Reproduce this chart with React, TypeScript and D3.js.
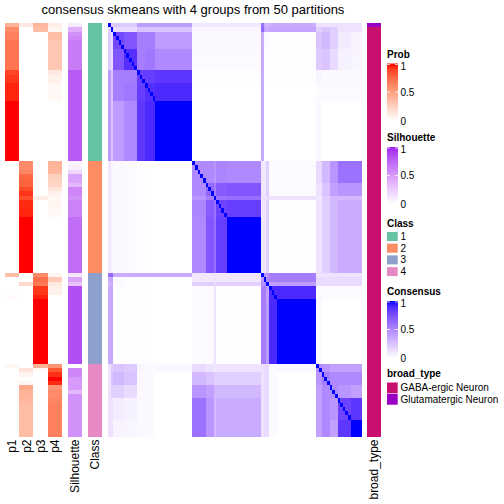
import React from "react";
import * as d3 from "d3";

const TITLE = "consensus skmeans with 4 groups from 50 partitions";
const N = 96;

// membership probabilities per sample (rows, in heatmap order)
const p1 = [
  0.4, 0.6, 0.65, 0.65, 0.7, 0.7, 0.7, 0.7, 0.7, 0.7, 0.7, 0.88, 0.92, 0.92, 0.96, 0.96,
  0.96, 0.96, 1, 1, 1, 1, 1, 1, 1, 1, 1, 1, 1, 1, 1, 1,
  0, 0, 0, 0, 0, 0, 0, 0, 0, 0, 0, 0, 0, 0, 0, 0, 0, 0, 0, 0, 0, 0, 0, 0, 0, 0,
  0.35, 0, 0, 0, 0, 0.03, 0, 0, 0, 0, 0, 0, 0, 0, 0, 0, 0, 0, 0, 0, 0,
  0.05, 0, 0, 0, 0, 0, 0, 0, 0, 0, 0, 0, 0, 0, 0, 0, 0,
];
const p2 = [
  0.12, 0, 0, 0, 0, 0, 0, 0, 0, 0, 0, 0, 0, 0, 0, 0, 0, 0, 0, 0, 0, 0, 0, 0, 0, 0, 0, 0, 0, 0, 0, 0,
  0.6, 0.6, 0.62, 0.75, 0.77, 0.78, 0.86, 0.93, 0.86, 0.95, 0.95, 0.96, 0.96, 1, 1, 1, 1, 1, 1, 1, 1, 1, 1, 1, 1, 1,
  0, 0, 0.2, 0, 0, 0, 0, 0, 0, 0, 0, 0, 0, 0, 0, 0, 0, 0, 0, 0, 0,
  0, 0.15, 0.06, 0, 0.05, 0.45, 0.4, 0.4, 0.38, 0.35, 0.35, 0.35, 0.35, 0.35, 0.35, 0.35, 0.35,
];
const p3 = [
  0.38, 0.35, 0, 0, 0, 0, 0, 0, 0, 0, 0, 0, 0, 0, 0, 0, 0, 0, 0, 0, 0, 0, 0, 0, 0, 0, 0, 0, 0, 0, 0, 0,
  0, 0, 0, 0, 0, 0, 0, 0, 0.1, 0, 0, 0, 0, 0, 0, 0, 0, 0, 0, 0, 0, 0, 0, 0, 0, 0,
  0.6, 0.72, 0.68, 0.92, 0.92, 0.97, 1, 1, 1, 1, 1, 1, 1, 1, 1, 1, 1, 1, 1, 1, 1,
  0.4, 0.03, 0, 0, 0, 0, 0, 0, 0, 0, 0, 0, 0, 0, 0, 0, 0,
];
const p4 = [
  0.1, 0.05, 0.35, 0.35, 0.3, 0.3, 0.3, 0.3, 0.3, 0.3, 0.3, 0.12, 0.08, 0.08, 0.04, 0.04,
  0.04, 0.04, 0, 0, 0, 0, 0, 0, 0, 0, 0, 0, 0, 0, 0, 0,
  0.4, 0.4, 0.38, 0.25, 0.23, 0.22, 0.14, 0.07, 0.04, 0.05, 0.05, 0.04, 0.04, 0, 0, 0, 0, 0, 0, 0, 0, 0, 0, 0, 0, 0,
  0.05, 0.28, 0.12, 0.08, 0.08, 0, 0, 0, 0, 0, 0, 0, 0, 0, 0, 0, 0, 0, 0, 0, 0,
  0.55, 0.82, 0.94, 1, 0.95, 0.55, 0.6, 0.6, 0.62, 0.65, 0.65, 0.65, 0.65, 0.65, 0.65, 0.65, 0.65,
];
const silhouette = [
  0.1, 0.4, 0.55, 0.6, 0.65, 0.65, 0.65, 0.65, 0.65, 0.65, 0.65, 0.8, 0.8, 0.8, 0.8, 0.8,
  0.8, 0.8, 0.8, 0.8, 0.8, 0.8, 0.8, 0.8, 0.8, 0.8, 0.8, 0.8, 0.8, 0.8, 0.8, 0.8,
  0.05, 0.08, 0.2, 0.45, 0.45, 0.35, 0.6, 0.6, 0.55, 0.62, 0.62, 0.62, 0.62, 0.72, 0.72, 0.72, 0.72, 0.72, 0.72, 0.72, 0.72, 0.72, 0.72, 0.72, 0.72, 0.72,
  0.12, 0.45, 0.3, 0.85, 0.85, 0.85, 0.85, 0.85, 0.85, 0.85, 0.85, 0.85, 0.85, 0.85, 0.85, 0.85, 0.85, 0.85, 0.85, 0.85, 0.85,
  0, 0.6, 0.6, 0.5, 0.5, 0.5, 0.35, 0.55, 0.55, 0.55, 0.55, 0.55, 0.55, 0.55, 0.55, 0.55, 0.55,
];
const sampleClass = [
  1, 1, 1, 1, 1, 1, 1, 1, 1, 1, 1, 1, 1, 1, 1, 1, 1, 1, 1, 1, 1, 1, 1, 1, 1, 1, 1, 1, 1, 1, 1, 1,
  2, 2, 2, 2, 2, 2, 2, 2, 2, 2, 2, 2, 2, 2, 2, 2, 2, 2, 2, 2, 2, 2, 2, 2, 2, 2,
  3, 3, 3, 3, 3, 3, 3, 3, 3, 3, 3, 3, 3, 3, 3, 3, 3, 3, 3, 3, 3,
  4, 4, 4, 4, 4, 4, 4, 4, 4, 4, 4, 4, 4, 4, 4, 4, 4,
];
// 0 = GABA-ergic Neuron, 1 = Glutamatergic Neuron
const broadType = [1, ...Array(95).fill(0)];

// consensus: samples grouped in segments (start index), with segment-to-segment consensus
const segStart = [0, 1, 2, 6, 11, 14, 18, 32, 37, 40, 41, 45, 58, 59, 60, 61, 64, 79, 81, 84, 87, 92];
const segConsensus = [
  [1, .2, .22, .22, .42, .42, .42, .1, .1, .1, .1, .1, .6, .35, .3, .35, .35, .12, .12, .12, .12, .12],
  [.2, 1, .15, .15, .25, .25, .25, .04, .04, .04, .04, .04, .65, .38, .35, .38, .38, .2, .25, .2, .12, .12],
  [.22, .15, .78, .72, .55, .55, .42, .03, .03, .03, .03, .03, .35, .02, .02, .01, .01, .25, .3, .2, .08, .05],
  [.22, .15, .72, .88, .55, .58, .5, .02, .02, .02, .02, .02, .35, .01, .01, .01, .01, .22, .25, .15, .06, .04],
  [.42, .25, .55, .55, .82, .82, .85, .01, .01, .01, .01, .01, .35, .01, .01, .01, .01, .04, .03, .03, .03, .03],
  [.42, .25, .55, .58, .82, .88, .9, 0, 0, 0, 0, 0, .35, 0, 0, 0, 0, .02, .02, .02, .02, .02],
  [.42, .25, .42, .5, .85, .9, 1, 0, 0, 0, 0, 0, .35, 0, 0, 0, 0, .03, 0, 0, 0, 0],
  [.1, .04, .03, .02, .01, 0, 0, .5, .5, .45, .52, .5, .1, .1, .2, .02, .02, .15, .3, .45, .6, .6],
  [.1, .04, .03, .02, .01, 0, 0, .5, .65, .55, .7, .72, .1, .1, .2, .02, .02, .12, .25, .4, .45, .45],
  [.1, .04, .03, .02, .01, 0, 0, .45, .55, 1, .6, .62, .12, .12, .15, .12, .12, .1, .2, .3, .3, .3],
  [.1, .04, .03, .02, .01, 0, 0, .52, .7, .6, .8, .82, .1, .1, .2, .01, .01, .12, .2, .3, .35, .35],
  [.1, .04, .03, .02, .01, 0, 0, .5, .72, .62, .82, 1, .1, .1, .2, .01, .01, .12, .2, .3, .35, .35],
  [.6, .65, .35, .35, .35, .35, .35, .1, .1, .12, .1, .1, 1, .45, .45, .55, .55, .12, .12, .12, .12, .12],
  [.35, .38, .02, .01, .01, 0, 0, .1, .1, .12, .1, .1, .45, 1, .5, .55, .55, .15, .15, .15, .15, .15],
  [.3, .35, .02, .01, .01, 0, 0, .2, .2, .15, .2, .2, .45, .5, 1, .4, .42, .15, .15, .15, .15, .15],
  [.35, .38, .01, .01, .01, 0, 0, .02, .02, .12, .01, .01, .55, .55, .4, .9, .9, .02, .02, .02, .02, .02],
  [.35, .38, .01, .01, .01, 0, 0, .02, .02, .12, .01, .01, .55, .55, .42, .9, 1, .03, 0, 0, 0, 0],
  [.12, .2, .25, .22, .04, .02, .03, .15, .12, .1, .12, .12, .12, .15, .15, .02, .03, .5, .45, .4, .4, .4],
  [.12, .25, .3, .25, .03, .02, 0, .3, .25, .2, .2, .2, .12, .15, .15, .02, 0, .45, .55, .5, .5, .5],
  [.12, .2, .2, .15, .03, .02, 0, .45, .4, .3, .3, .3, .12, .15, .15, .02, 0, .4, .5, .5, .45, .4],
  [.12, .12, .08, .06, .03, .02, 0, .6, .45, .3, .35, .35, .12, .15, .15, .02, 0, .4, .5, .45, .8, .85],
  [.12, .12, .05, .04, .03, .02, 0, .6, .45, .3, .35, .35, .12, .15, .15, .02, 0, .4, .5, .4, .85, 1],
];

const probNames = ["p1", "p2", "p3", "p4"];
const probData = [p1, p2, p3, p4];
const classNames = ["1", "2", "3", "4"];
const classColors = ["#66C2A5", "#FC8D62", "#8DA0CB", "#E78AC3"];
const broadNames = ["GABA-ergic Neuron", "Glutamatergic Neuron"];
const broadColors = ["#C8106E", "#9A00C4"];
const legendTicks = [0, 0.5, 1];

const FONT = "'Liberation Sans', Arial, Helvetica, sans-serif";

const probColor = d3.scaleLinear<string>().domain([0, 1]).range(["#FFFFFF", "#FF0000"]).interpolate(d3.interpolateLab);
const silColor = d3.scaleLinear<string>().domain([0, 1]).range(["#FFFFFF", "#A020F0"]).interpolate(d3.interpolateLab);
const consColor = d3.scaleLinear<string>().domain([0, 1]).range(["#FFFFFF", "#0000FF"]).interpolate(d3.interpolateLab);

const rowY = d3.scaleBand<number>().domain(d3.range(N)).range([23, 437]);
const colX = d3.scaleBand<number>().domain(d3.range(N)).range([108, 361.3]);
const probX = d3.scaleBand<string>().domain(probNames).range([5, 61.8]);

function segOf(i: number) {
  return d3.bisectRight(segStart, i) - 1;
}
function consensus(i: number, j: number) {
  if (i === j) return 1;
  const a = segOf(i), b = segOf(j);
  return a <= b ? segConsensus[a][b] : segConsensus[b][a];
}

function GradientLegend({ id, title, y, scale }: { id: string; title: string; y: number; scale: d3.ScaleLinear<string, string> }) {
  const x = 387, w = 11, h = 57;
  const top = y + 6;
  const ly = d3.scaleLinear().domain([0, 1]).range([top + h, top]);
  const stops = d3.range(0, 1.0001, 0.1);
  const labelY = (t: number) => (t === 1 ? ly(t) + 2.5 : t === 0 ? ly(t) + 0.5 : ly(t));
  return (
    <g>
      <defs>
        <linearGradient id={id} x1="0" y1="1" x2="0" y2="0">
          {stops.map((s) => (
            <stop key={s} offset={s} stopColor={scale(s)} />
          ))}
        </linearGradient>
      </defs>
      <text x={x} y={y} fontSize={10} fontWeight="bold" fontFamily={FONT}>{title}</text>
      <rect x={x} y={top} width={w} height={h} fill={`url(#${id})`} />
      {legendTicks.filter((t) => t > 0).map((t) => (
        <g key={t} stroke="#FFFFFF" strokeWidth={0.8}>
          <line x1={x} x2={x + 3} y1={ly(t) + (t === 1 ? 1 : 0)} y2={ly(t) + (t === 1 ? 1 : 0)} />
          <line x1={x + w - 3} x2={x + w} y1={ly(t) + (t === 1 ? 1 : 0)} y2={ly(t) + (t === 1 ? 1 : 0)} />
        </g>
      ))}
      {legendTicks.map((t) => (
        <text key={t} x={x + 13.5} y={labelY(t)} dy="0.35em" fontSize={10} fontFamily={FONT}>{String(t)}</text>
      ))}
    </g>
  );
}

function DiscreteLegend({ title, y, names, colors, boxH, pitch }: { title: string; y: number; names: string[]; colors: string[]; boxH: number; pitch: number }) {
  const x = 387;
  const top = y + 5.5;
  return (
    <g>
      <text x={x} y={y} fontSize={10} fontWeight="bold" fontFamily={FONT}>{title}</text>
      {names.map((n, k) => (
        <g key={n}>
          <rect x={x} y={top + k * pitch} width={10.7} height={boxH} fill={colors[k]} />
          <text x={x + 13.5} y={top + k * pitch + boxH / 2} dy="0.35em" fontSize={10} fontFamily={FONT}>{n}</text>
        </g>
      ))}
    </g>
  );
}

export default function App() {
  const rows = d3.range(N);
  const rh = rowY.bandwidth();
  const cw = colX.bandwidth();
  const labelTop = 439.5;
  const colLabels: { name: string; cx: number }[] = [
    ...probNames.map((n) => ({ name: n, cx: (probX(n) as number) + probX.bandwidth() / 2 })),
    { name: "Silhouette", cx: 75.1 },
    { name: "Class", cx: 95.1 },
    { name: "broad_type", cx: 373.8 },
  ];
  return (
    <div style={{ position: "fixed", left: 0, top: 0 }}>
      <svg width={504} height={504} style={{ display: "block", background: "#FFFFFF" }}>
        <text x={193} y={14} textAnchor="middle" fontSize={13} fontFamily={FONT}>{TITLE}</text>
        <g shapeRendering="crispEdges">
          {probData.map((arr, k) =>
            rows.map((i) => (
              <rect key={`p${k}-${i}`} x={probX(probNames[k])} y={rowY(i)} width={probX.bandwidth() + 0.3} height={rh + 0.3} fill={probColor(arr[i])} />
            ))
          )}
          {rows.map((i) => (
            <rect key={`s${i}`} x={68} y={rowY(i)} width={14.2} height={rh + 0.3} fill={silColor(silhouette[i])} />
          ))}
          {rows.map((i) => (
            <rect key={`c${i}`} x={88} y={rowY(i)} width={14.2} height={rh + 0.3} fill={classColors[sampleClass[i] - 1]} />
          ))}
          {rows.map((i) =>
            rows.map((j) => (
              <rect key={`m${i}-${j}`} x={colX(j)} y={rowY(i)} width={cw + 0.3} height={rh + 0.3} fill={consColor(consensus(i, j))} />
            ))
          )}
          {rows.map((i) => (
            <rect key={`b${i}`} x={366.7} y={rowY(i)} width={14.2} height={rh + 0.3} fill={broadColors[broadType[i]]} />
          ))}
        </g>
        {colLabels.map((c) => (
          <text key={c.name} transform={`translate(${c.cx},${labelTop}) rotate(-90)`} textAnchor="end" dy="0.35em" fontSize={12} fontFamily={FONT}>{c.name}</text>
        ))}
        <GradientLegend id="gProb" title="Prob" y={57.5} scale={probColor} />
        <GradientLegend id="gSil" title="Silhouette" y={141} scale={silColor} />
        <DiscreteLegend title="Class" y={226.5} names={classNames} colors={classColors} boxH={9} pitch={11.7} />
        <GradientLegend id="gCons" title="Consensus" y={295} scale={consColor} />
        <DiscreteLegend title="broad_type" y={377} names={broadNames} colors={broadColors} boxH={10.8} pitch={11.4} />
      </svg>
    </div>
  );
}
